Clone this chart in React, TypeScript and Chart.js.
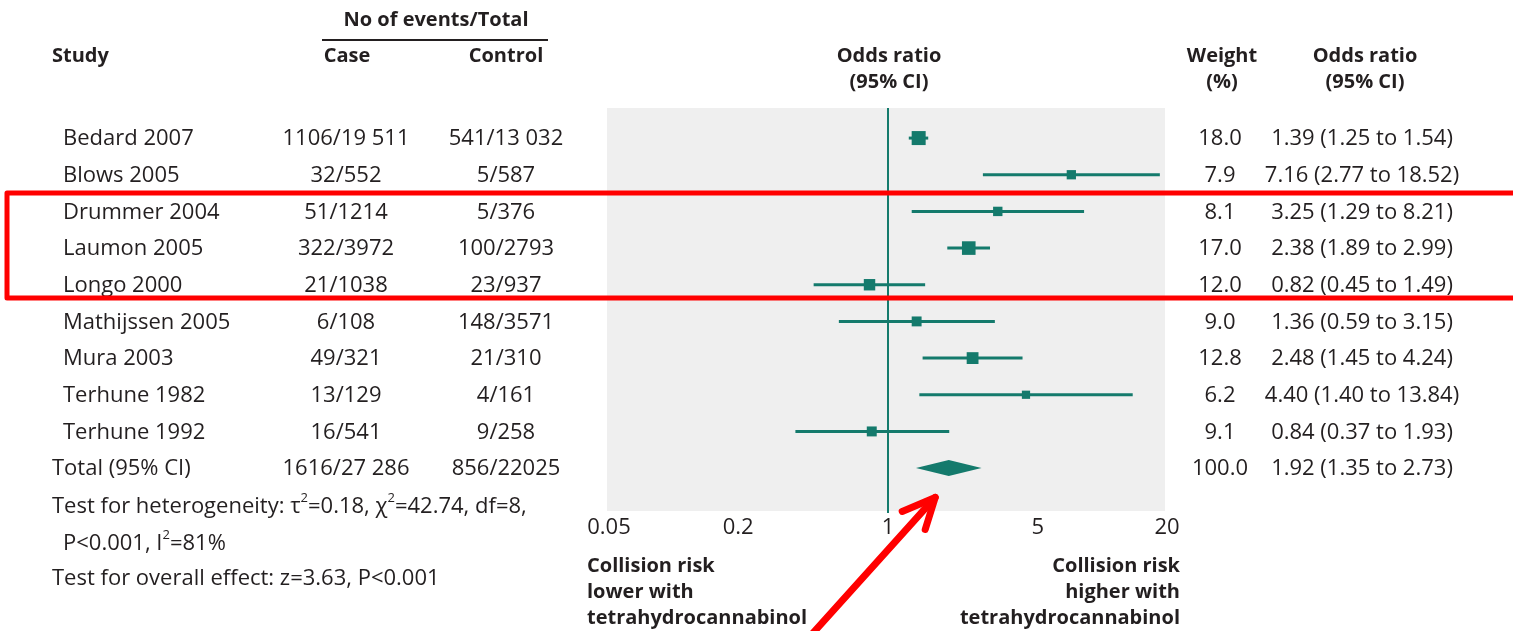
import React, { useEffect, useRef } from "react";
import { Chart, registerables } from "chart.js";

Chart.register(...registerables);

// ---- data ----
const studies = [
  "Bedard 2007",
  "Blows 2005",
  "Drummer 2004",
  "Laumon 2005",
  "Longo 2000",
  "Mathijssen 2005",
  "Mura 2003",
  "Terhune 1982",
  "Terhune 1992",
];
const caseEvents = ["1106/19 511", "32/552", "51/1214", "322/3972", "21/1038", "6/108", "49/321", "13/129", "16/541"];
const controlEvents = ["541/13 032", "5/587", "5/376", "100/2793", "23/937", "148/3571", "21/310", "4/161", "9/258"];
const weights = [18.0, 7.9, 8.1, 17.0, 12.0, 9.0, 12.8, 6.2, 9.1];
const oddsRatios = [1.39, 7.16, 3.25, 2.38, 0.82, 1.36, 2.48, 4.4, 0.84];
const ciLower = [1.25, 2.77, 1.29, 1.89, 0.45, 0.59, 1.45, 1.4, 0.37];
const ciUpper = [1.54, 18.52, 8.21, 2.99, 1.49, 3.15, 4.24, 13.84, 1.93];

const totalLabel = "Total (95% CI)";
const totalCase = "1616/27 286";
const totalControl = "856/22025";
const totalWeight = 100.0;
const totalOR = 1.92;
const totalLower = 1.35;
const totalUpper = 2.73;

const xTicks = [0.05, 0.2, 1, 5, 20];

// annotation anchors in data space (odds ratio, row)
const highlightRows = [2, 4];
const arrowTip = { x: 1.66, y: 9.8 };

// ---- styles ----
const TEAL = "#147a6c";
const TEXT = "#231f20";
const FONT = "'Open Sans', 'Noto Sans', sans-serif";

type Seg = { t: string; sup?: boolean };

function drawRich(ctx: CanvasRenderingContext2D, segs: Seg[], x: number, y: number, size: number) {
  let cx = x;
  for (const s of segs) {
    if (s.sup) {
      ctx.font = `${Math.round(size * 0.6)}px ${FONT}`;
      ctx.fillText(s.t, cx, y - size * 0.38);
    } else {
      ctx.font = `${size}px ${FONT}`;
      ctx.fillText(s.t, cx, y);
    }
    cx += ctx.measureText(s.t).width;
  }
}

const fmtOR = (v: number, lo: number, hi: number) => `${v.toFixed(2)} (${lo.toFixed(2)} to ${hi.toFixed(2)})`;

const forestPlugin = {
  id: "forest",
  beforeDraw(chart: any) {
    const { ctx, chartArea } = chart;
    ctx.save();
    ctx.fillStyle = "#ffffff";
    ctx.fillRect(0, 0, chart.width, chart.height);
    ctx.fillStyle = "#efefef";
    ctx.fillRect(chartArea.left - 2, chartArea.top, chartArea.right - chartArea.left, chartArea.bottom - chartArea.top);
    ctx.restore();
  },
  beforeDatasetsDraw(chart: any) {
    const { ctx, chartArea } = chart;
    const xs = chart.scales.x;
    const ys = chart.scales.y;
    ctx.save();
    // line of no effect
    const x1 = xs.getPixelForValue(1);
    ctx.strokeStyle = TEAL;
    ctx.lineWidth = 2;
    ctx.beginPath();
    ctx.moveTo(x1, chartArea.top);
    ctx.lineTo(x1, chartArea.bottom + 2);
    ctx.stroke();
    // confidence intervals
    ctx.lineWidth = 3;
    for (let i = 0; i < oddsRatios.length; i++) {
      const y = ys.getPixelForValue(i);
      ctx.beginPath();
      ctx.moveTo(xs.getPixelForValue(ciLower[i]), y);
      ctx.lineTo(xs.getPixelForValue(ciUpper[i]), y);
      ctx.stroke();
    }
    ctx.restore();
  },
  afterDatasetsDraw(chart: any) {
    const { ctx } = chart;
    const xs = chart.scales.x;
    const ys = chart.scales.y;
    const y = ys.getPixelForValue(studies.length);
    ctx.save();
    ctx.fillStyle = TEAL;
    ctx.beginPath();
    ctx.moveTo(xs.getPixelForValue(totalLower), y);
    ctx.lineTo(xs.getPixelForValue(totalOR), y - 8);
    ctx.lineTo(xs.getPixelForValue(totalUpper), y);
    ctx.lineTo(xs.getPixelForValue(totalOR), y + 8);
    ctx.closePath();
    ctx.fill();
    ctx.restore();
  },
  afterDraw(chart: any) {
    const { ctx } = chart;
    const xs = chart.scales.x;
    const ys = chart.scales.y;
    const S = 22;
    const B = 20;
    ctx.save();
    ctx.fillStyle = TEXT;
    ctx.textBaseline = "middle";

    // headers
    ctx.font = `bold ${B}px ${FONT}`;
    ctx.textAlign = "center";
    ctx.fillText("No of events/Total", 436, 20);
    ctx.textAlign = "left";
    ctx.fillText("Study", 52, 56);
    ctx.textAlign = "center";
    ctx.fillText("Case", 347, 56);
    ctx.fillText("Control", 506, 56);
    ctx.fillText("Odds ratio", 889, 56);
    ctx.fillText("(95% CI)", 889, 82);
    ctx.fillText("Weight", 1222, 56);
    ctx.fillText("(%)", 1222, 82);
    ctx.fillText("Odds ratio", 1365, 56);
    ctx.fillText("(95% CI)", 1365, 82);
    ctx.strokeStyle = TEXT;
    ctx.lineWidth = 2;
    ctx.beginPath();
    ctx.moveTo(322, 40);
    ctx.lineTo(548, 40);
    ctx.stroke();

    // rows
    ctx.font = `${S}px ${FONT}`;
    for (let i = 0; i < studies.length; i++) {
      const y = ys.getPixelForValue(i) + 1;
      ctx.textAlign = "left";
      ctx.fillText(studies[i], 63, y);
      ctx.textAlign = "center";
      ctx.fillText(caseEvents[i], 346, y);
      ctx.fillText(controlEvents[i], 506, y);
      ctx.fillText(weights[i].toFixed(1), 1220, y);
      ctx.fillText(fmtOR(oddsRatios[i], ciLower[i], ciUpper[i]), 1362, y);
    }
    const yt = ys.getPixelForValue(studies.length) + 1;
    ctx.textAlign = "left";
    ctx.fillText(totalLabel, 52, yt);
    ctx.textAlign = "center";
    ctx.fillText(totalCase, 346, yt);
    ctx.fillText(totalControl, 506, yt);
    ctx.fillText(totalWeight.toFixed(1), 1220, yt);
    ctx.fillText(fmtOR(totalOR, totalLower, totalUpper), 1362, yt);

    // tests
    ctx.textAlign = "left";
    drawRich(ctx, [
      { t: "Test for heterogeneity: \u03C4" }, { t: "2", sup: true }, { t: "=0.18, \u03C7" }, { t: "2", sup: true }, { t: "=42.74, df=8," },
    ], 52, 507, S);
    drawRich(ctx, [{ t: "P<0.001, I" }, { t: "2", sup: true }, { t: "=81%" }], 63, 544, S);
    drawRich(ctx, [{ t: "Test for overall effect: z=3.63, P<0.001" }], 52, 579, S);

    // axis captions
    ctx.font = `bold ${B}px ${FONT}`;
    ctx.textAlign = "left";
    ["Collision risk", "lower with", "tetrahydrocannabinol"].forEach((t, k) => ctx.fillText(t, 587, 566 + k * 26));
    ctx.textAlign = "right";
    ["Collision risk", "higher with", "tetrahydrocannabinol"].forEach((t, k) => ctx.fillText(t, 1180, 566 + k * 26));

    // red highlight box
    const yTop = (ys.getPixelForValue(highlightRows[0] - 1) + ys.getPixelForValue(highlightRows[0])) / 2;
    const yBot = (ys.getPixelForValue(highlightRows[1]) + ys.getPixelForValue(highlightRows[1] + 1)) / 2 - 5;
    ctx.strokeStyle = "#ff0000";
    ctx.lineWidth = 5;
    ctx.lineJoin = "round";
    ctx.strokeRect(7, yTop, 1520, yBot - yTop);

    // red arrow
    const tx = xs.getPixelForValue(arrowTip.x);
    const ty = ys.getPixelForValue(arrowTip.y);
    ctx.lineWidth = 7;
    ctx.lineCap = "round";
    ctx.beginPath();
    ctx.moveTo(tx - 128, ty + 142);
    ctx.lineTo(tx, ty);
    ctx.stroke();
    ctx.beginPath();
    ctx.moveTo(tx - 33, ty + 14);
    ctx.lineTo(tx, ty);
    ctx.lineTo(tx - 10, ty + 32);
    ctx.stroke();
    ctx.restore();
  },
};

export default function App() {
  const ref = useRef<HTMLCanvasElement>(null);
  useEffect(() => {
    document.body.style.margin = "0";
    const canvas = ref.current!;
    const chart = new Chart(canvas, {
      type: "scatter",
      data: {
        datasets: [
          {
            data: oddsRatios.map((v, i) => ({ x: v, y: i })),
            pointStyle: "rect",
            pointRadius: weights.map((w) => (3.3 * Math.sqrt(w)) / Math.SQRT2),
            backgroundColor: TEAL,
            borderWidth: 0,
          },
        ],
      },
      options: {
        animation: false,
        responsive: false,
        events: [],
        layout: { padding: { left: 609, right: 346, top: 108, bottom: 0 } },
        plugins: { legend: { display: false }, tooltip: { enabled: false } },
        scales: {
          x: {
            type: "logarithmic",
            min: 0.05,
            max: 20,
            afterBuildTicks: (s: any) => {
              s.ticks = xTicks.map((v) => ({ value: v }));
            },
            afterFit: (s: any) => {
              s.height = 120;
            },
            grid: { display: false, drawTicks: false },
            border: { display: false },
            ticks: {
              callback: (v: any) => String(v),
              font: { family: FONT, size: 22 },
              color: TEXT,
              padding: 4,
              maxRotation: 0,
              autoSkip: false,
            },
          },
          y: { type: "linear", min: -0.82, max: 10.17, reverse: true, display: false },
        },
      },
      plugins: [forestPlugin],
    } as any);
    return () => chart.destroy();
  }, []);
  return (
    <div style={{ width: 1513, height: 631, position: "relative", background: "#fff" }}>
      <canvas ref={ref} width={1513} height={631} style={{ display: "block" }} />
    </div>
  );
}
